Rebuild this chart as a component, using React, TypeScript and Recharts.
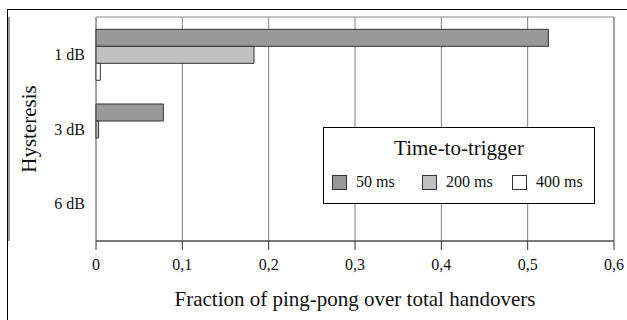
import React from "react";
import {
  BarChart,
  Bar,
  XAxis,
  YAxis,
  CartesianGrid,
  ReferenceArea
} from "recharts";

const hysteresis = ["1 dB", "3 dB", "6 dB"];
const ttt50 = [0.524, 0.078, 0];
const ttt200 = [0.183, 0.003, 0];
const ttt400 = [0.005, 0, 0];
const xTicks = [0, 0.1, 0.2, 0.3, 0.4, 0.5, 0.6];
const bandTicks = [0, 1, 2, 3];

const seriesNames = ["50 ms", "200 ms", "400 ms"];
const seriesColors = ["#999999", "#c0c0c0", "#ffffff"];

const data = hysteresis.map((h, i) => ({
  h,
  ms50: ttt50[i],
  ms200: ttt200[i],
  ms400: ttt400[i]
}));

const FONT = '"Liberation Serif", "Times New Roman", serif';

function TttLegend() {
  return (
    <div
      style={{
        position: "absolute",
        left: 323,
        top: 127,
        width: 272,
        height: 77,
        border: "1px solid #000",
        background: "#fff",
        boxSizing: "border-box",
        fontFamily: FONT,
        color: "#111"
      }}
    >
      <div style={{ textAlign: "center", fontSize: 21, marginTop: 8, lineHeight: "25px" }}>
        Time-to-trigger
      </div>
      <div style={{ display: "flex", marginTop: 12, marginLeft: 8 }}>
        {seriesNames.map((name, i) => (
          <div key={name} style={{ display: "flex", alignItems: "center", width: 90, flexShrink: 0 }}>
            <span
              style={{
                width: 15,
                height: 15,
                background: seriesColors[i],
                border: "1px solid #333",
                boxSizing: "border-box",
                display: "inline-block",
                marginRight: 9,
                flexShrink: 0
              }}
            />
            <span style={{ fontSize: 16, fontFamily: FONT }}>{name}</span>
          </div>
        ))}
      </div>
    </div>
  );
}

function HystLabel(props: any) {
  const { viewBox } = props;
  const cy = viewBox.y + viewBox.height / 2;
  return (
    <text
      x={29}
      y={cy}
      transform={`rotate(-90 29 ${cy})`}
      textAnchor="middle"
      dominantBaseline="central"
      fontFamily={FONT}
      fontSize={21}
      fill="#111"
    >
      Hysteresis
    </text>
  );
}

export default function App() {
  return (
    <div style={{ position: "absolute", left: 0, top: 0, width: 627, height: 320, overflow: "hidden", background: "#fff", fontFamily: FONT }}>
      <div style={{ position: "absolute", left: 0, top: 0 }}>
        <BarChart
          width={627}
          height={320}
          data={data}
          layout="vertical"
          margin={{ top: 17, right: 13, left: 0, bottom: 0 }}
          barCategoryGap="16.5%"
          barGap={0}
          style={{ fontFamily: FONT }}
        >
          <CartesianGrid horizontal={false} stroke="#808080" />
          <ReferenceArea x1={0} x2={0.6} fill="none" stroke="#888" ifOverflow="visible" />
          <XAxis
            type="number"
            domain={[0, 0.6]}
            ticks={xTicks}
            tickFormatter={(v: number) => String(v).replace(".", ",")}
            stroke="#333"
            tickSize={9}
            tickMargin={9}
            height={79}
            tick={{ fill: "#111", fontSize: 16, fontFamily: FONT }}
            label={{
              value: "Fraction of ping-pong over total handovers",
              position: "insideBottom",
              offset: 14,
              fill: "#111",
              fontSize: 21,
              fontFamily: FONT
            }}
          />
          <YAxis
            yAxisId="band"
            type="number"
            domain={[0, 3]}
            allowDataOverflow
            ticks={bandTicks}
            tick={false}
            tickSize={9}
            width={9}
            stroke="#333"
          />
          <YAxis
            type="category"
            dataKey="h"
            width={87}
            axisLine={false}
            tickLine={false}
            tickMargin={5}
            tick={{ fill: "#111", fontSize: 16, fontFamily: FONT }}
            label={<HystLabel />}
          />
          <Bar dataKey="ms50" name={seriesNames[0]} fill={seriesColors[0]} stroke="#333" strokeWidth={1} isAnimationActive={false} />
          <Bar dataKey="ms200" name={seriesNames[1]} fill={seriesColors[1]} stroke="#333" strokeWidth={1} isAnimationActive={false} />
          <Bar dataKey="ms400" name={seriesNames[2]} fill={seriesColors[2]} stroke="#333" strokeWidth={1} isAnimationActive={false} />
        </BarChart>
      </div>
      <TttLegend />
      {/* outer picture frame, only its top and left edges fall inside the crop */}
      <svg
        width={627}
        height={320}
        style={{ position: "absolute", left: 0, top: 0, zIndex: 5, pointerEvents: "none" }}
      >
        <line x1={7.5} y1={9} x2={7.5} y2={320} stroke="#000" strokeWidth={1} />
        <line x1={7} y1={9.5} x2={627} y2={9.5} stroke="#000" strokeWidth={1} />
      </svg>
    </div>
  );
}
